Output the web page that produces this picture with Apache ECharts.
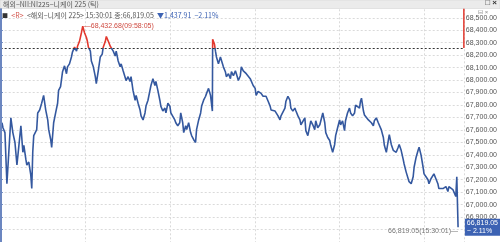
<!DOCTYPE html>
<html><head><meta charset="utf-8">
<script src="https://cdn.jsdelivr.net/npm/echarts@6/dist/echarts.min.js"></script>
<style>html,body{margin:0;padding:0;background:#fff;overflow:hidden}#c{width:500px;height:242px;}</style>
</head><body><div id="c"></div>
<script>
// ---- data ----
const titleText = '해외−NII:NI225−니케이 225 (틱)';
const legendName = '<해외−니케이 225>';
const lastTime = '15:30:01';
const prevClose = 68256.96;
const closePrice = 66819.05;
const changeText = '▼1,437.91';
const changePct = '−2.11%';
const peakTime = '09:58:05';
const peakMinute = 58.1;
const peakPrice = 68432.68;
const closeMinute = 323.9;
const yMin = 66700, yMax = 68600, yStep = 100;
const xMin = 0, xMax = 328, xStep = 60; // session minutes from 09:00 (lunch break removed)

// [session minute, price]
const morning = [
[0.9,67657],[1.6,67617],[3.0,67578],[4.4,67168],[7.2,67696],[8.6,67578],[10.1,67499],[11.5,67318],[12.9,67476],[14.3,67633],
[15.7,67420],[16.4,67476],[17.8,67365],[18.5,67318],[19.9,67342],[21.3,67239],[22.0,67129],[22.7,67420],[23.4,67554],[25.5,67602],
[26.2,67736],[27.6,67759],[29.0,67814],[30.4,67877],[31.9,67759],[33.3,67680],[34.0,67602],[35.4,67523],[36.1,67460],[37.5,67657],
[38.9,67736],[40.3,67814],[41.0,67917],[42.4,67948],[43.8,68067],[45.2,68114],[46.6,68051],[47.3,68106],[48.7,68130],[50.1,68185],
[50.8,68224],[52.3,68264],[53.7,68232],[54.4,68271],[55.8,68311],[57.2,68382],[58.1,68432.68],[59.3,68382],[60.7,68342],[61.4,68311],
[62.1,68264],[63.5,68232],[64.2,68153],[65.6,68106],[67.0,68027],[67.7,67972],[69.1,68074],[70.5,68185],[71.9,68208],[72.6,68264],
[74.1,68311],[74.8,68350],[76.2,68311],[77.6,68271],[78.3,68287],[79.7,68232],[81.1,68193],[81.8,68232],[83.2,68153],[84.6,68106],
[85.3,68130],[86.7,68074],[88.1,68067],[88.8,67996],[90.2,68027],[91.6,67988],[92.3,68027],[93.7,67917],[95.2,67838],[95.9,67877],
[97.3,67814],[98.7,67759],[99.4,67712],[100.8,67680],[102.2,67736],[102.9,67791],[104.3,67838],[105.7,67917],[106.4,67956],[107.8,68011],
[109.2,67956],[109.9,67988],[111.3,67917],[112.7,67838],[113.4,67791],[114.8,67751],[116.3,67775],[117.0,67736],[118.4,67814],[119.8,67791],
[120.5,67736],[121.9,67720],[123.3,67680],[124.0,67657],[125.4,67633],[126.8,67657],[127.5,67736],[128.9,67657],[129.6,67578],[131.0,67633],
[131.7,67602],[133.1,67657],[134.5,67578],[135.2,67554],[136.6,67523],[138.0,67499],[138.7,67602],[140.2,67680],[141.6,67736],[142.3,67791],
[143.7,67838],[145.1,67870],[145.8,67893],[147.2,67933],[148.6,67877],[149.9,67751]
];
const afternoon = [
[150.1,68327],[150.7,68342],[151.4,68287],[152.1,68232],[152.8,68185],[154.2,68130],[155.6,68185],[156.3,68193],[157.7,68106],[159.1,68067],
[159.8,68027],[161.3,68051],[162.7,68011],[163.4,68067],[164.8,68035],[166.2,68074],[166.9,68051],[168.3,67996],[169.7,68035],[170.4,68106],
[171.8,68074],[173.2,68090],[173.9,68051],[175.3,68067],[176.7,68011],[177.4,67996],[178.8,67956],[180.2,67933],[180.9,67877],[182.3,67909],
[183.7,67917],[184.4,67893],[185.8,67870],[187.2,67854],[187.9,67870],[189.4,67830],[190.8,67791],[191.5,67759],[192.9,67759],[194.3,67751],
[195.0,67736],[196.4,67712],[197.8,67680],[198.5,67712],[199.9,67720],[201.3,67775],[202.0,67830],[203.4,67870],[204.8,67838],[205.5,67775],
[206.9,67751],[208.3,67775],[209.1,67751],[210.5,67712],[211.9,67680],[212.6,67641],[214.0,67657],[215.4,67696],[216.1,67594],[217.5,67554],
[218.9,67562],[219.6,67673],[221.0,67641],[222.4,67602],[223.1,67673],[224.5,67617],[226.0,67641],[226.7,67657],[228.1,67736],[229.5,67657],
[230.2,67578],[231.6,67539],[233.0,67515],[233.7,67476],[235.1,67420],[236.5,67483],[237.2,67554],[238.6,67617],[240.0,67680],[240.7,67641],
[242.1,67673],[243.5,67594],[244.2,67673],[245.6,67736],[247.0,67775],[247.8,67736],[249.2,67712],[250.6,67736],[251.3,67799],[252.7,67791],
[254.1,67775],[254.8,67830],[255.5,67854],[256.9,67751],[257.6,67720],[259.0,67736],[260.4,67680],[261.1,67696],[262.5,67657],[263.9,67633],
[264.6,67673],[266.0,67696],[267.4,67657],[268.1,67641],[269.5,67602],[271.0,67539],[271.7,67476],[273.1,67420],[274.5,67515],[275.2,67562],
[276.6,67483],[278.0,67436],[278.7,67444],[280.1,67420],[281.5,67460],[282.2,67483],[283.6,67436],[285.0,67365],[285.7,67326],[287.1,67263],
[288.5,67247],[289.2,67184],[290.7,67168],[292.1,67224],[292.8,67302],[294.2,67381],[295.6,67436],[296.3,67460],[297.7,67397],[299.1,67302],
[299.8,67247],[301.2,67224],[302.6,67200],[303.3,67168],[304.7,67208],[306.1,67224],[306.8,67247],[308.2,67208],[309.6,67168],[310.3,67129],
[311.7,67145],[313.2,67129],[313.9,67121],[315.3,67145],[316.7,67105],[317.4,67145],[318.8,67129],[320.2,67121],[320.9,67129],[322.3,67066],
[323.0,67224],[323.7,67224],[323.9,66819.05]
];

// ---- styles ----
const BLUE = '#34589f', RED = '#e2382e', AXIS_BLUE = '#4a6cb4';
const FONT = '"Liberation Sans", Arial, sans-serif';
const KFONT = '"Noto Sans CJK KR", sans-serif';
const fmt = v => Number(v).toLocaleString('en-US', {minimumFractionDigits: 2, maximumFractionDigits: 2});

const chart = echarts.init(document.getElementById('c'), null, {renderer: 'canvas'});
chart.setOption({
  animation: false,
  grid: {left: 0.7, right: 33, top: 5.3, height: 241.1, containLabel: false},
  xAxis: {
    type: 'value', min: xMin, max: xMax, interval: xStep,
    axisLine: {show: false}, axisTick: {show: false}, axisLabel: {show: false},
    splitLine: {show: true, lineStyle: {color: '#dadada', type: [2, 2], width: 1}}
  },
  yAxis: {
    type: 'value', position: 'right', min: yMin, max: yMax, interval: yStep,
    axisLine: {show: true, lineStyle: {color: AXIS_BLUE, width: 1.5}},
    axisTick: {show: true, length: 2, lineStyle: {color: AXIS_BLUE}},
    axisLabel: {show: true, margin: 2, color: '#555', fontSize: 7, fontFamily: FONT,
      showMinLabel: false, showMaxLabel: false, formatter: v => fmt(v)},
    splitLine: {show: true, lineStyle: {color: '#dadada', type: [2, 2], width: 1}}
  },
  visualMap: {
    show: false, type: 'piecewise', dimension: 1, seriesIndex: 0,
    pieces: [{gt: prevClose, lte: yMax, color: RED}, {gte: yMin, lte: prevClose, color: BLUE}]
  },
  series: [{
    type: 'line', data: morning.concat(afternoon), showSymbol: false, symbol: 'none',
    lineStyle: {width: 1.6}, z: 3,
    markLine: {
      silent: true, symbol: ['none', 'none'], animation: false, label: {show: false},
      data: [
        {yAxis: prevClose, lineStyle: {color: '#333', type: [2, 2], width: 1}},
        {yAxis: closePrice, lineStyle: {color: 'rgba(0,0,0,0)', width: 0},
          label: {show: true, position: 'end', distance: 1, formatter: fmt(closePrice) + '\n− 2.11%',
            color: '#fff', backgroundColor: '#3c62b3', padding: [1, 2, 0, 2], fontSize: 7, lineHeight: 8,
            fontFamily: FONT}}
      ]
    },
    markPoint: {
      silent: true, symbol: 'circle', symbolSize: 0, animation: false,
      data: [
        {coord: [peakMinute, peakPrice], label: {show: true, position: 'right', distance: 1,
          formatter: '—' + fmt(peakPrice) + '(' + peakTime + ')', color: '#cf4a40', fontSize: 7, fontFamily: FONT}},
        {coord: [closeMinute, closePrice], label: {show: true, position: 'left', distance: 0, offset: [0, 4],
          formatter: fmt(closePrice) + '(' + lastTime + ')—', color: '#777', fontSize: 7, fontFamily: FONT}}
      ]
    }
  }, {
    // upper part of the price axis, drawn red above the previous close
    type: 'line', data: [[xMax, prevClose], [xMax, yMax]], showSymbol: false, symbol: 'none',
    lineStyle: {color: RED, width: 1.5}, z: 4, silent: true
  }],
  graphic: [
    {type: 'rect', z: 100, shape: {x: 0, y: 0, width: 500, height: 8.5}, style: {fill: '#ebebeb', stroke: '#cfcfcf', lineWidth: 0.5}},
    {type: 'text', z: 101, left: 3, top: 0.5, style: {text: titleText, fill: '#555', font: '7px ' + KFONT}},
    {type: 'text', z: 101, right: 3, top: -1, style: {text: '□ ×', fill: '#333', font: 'bold 8px ' + FONT}},
    {type: 'rect', z: 100, shape: {x: 0, y: 8.5, width: 2, height: 234}, style: {fill: '#6b86c0'}},
    {type: 'text', z: 101, left: 2, top: 9.5, style: {
      text: '{s|■} {r|<R>} {n|' + legendName + ' ' + lastTime + ' 종:' + fmt(closePrice) + '} {d|' + changeText + '  ' + changePct + '}',
      rich: {
        s: {fill: '#333', font: '6px ' + KFONT},
        r: {fill: '#d2554d', font: '7px ' + KFONT},
        n: {fill: '#555', font: '7px ' + KFONT},
        d: {fill: '#3c62b3', font: '7px ' + KFONT}
      }}},
    {type: 'text', z: 101, left: 478, top: 9, style: {text: '⊟ ×', fill: '#888', font: '6px ' + FONT}}
  ]
});
</script>
</body></html>
